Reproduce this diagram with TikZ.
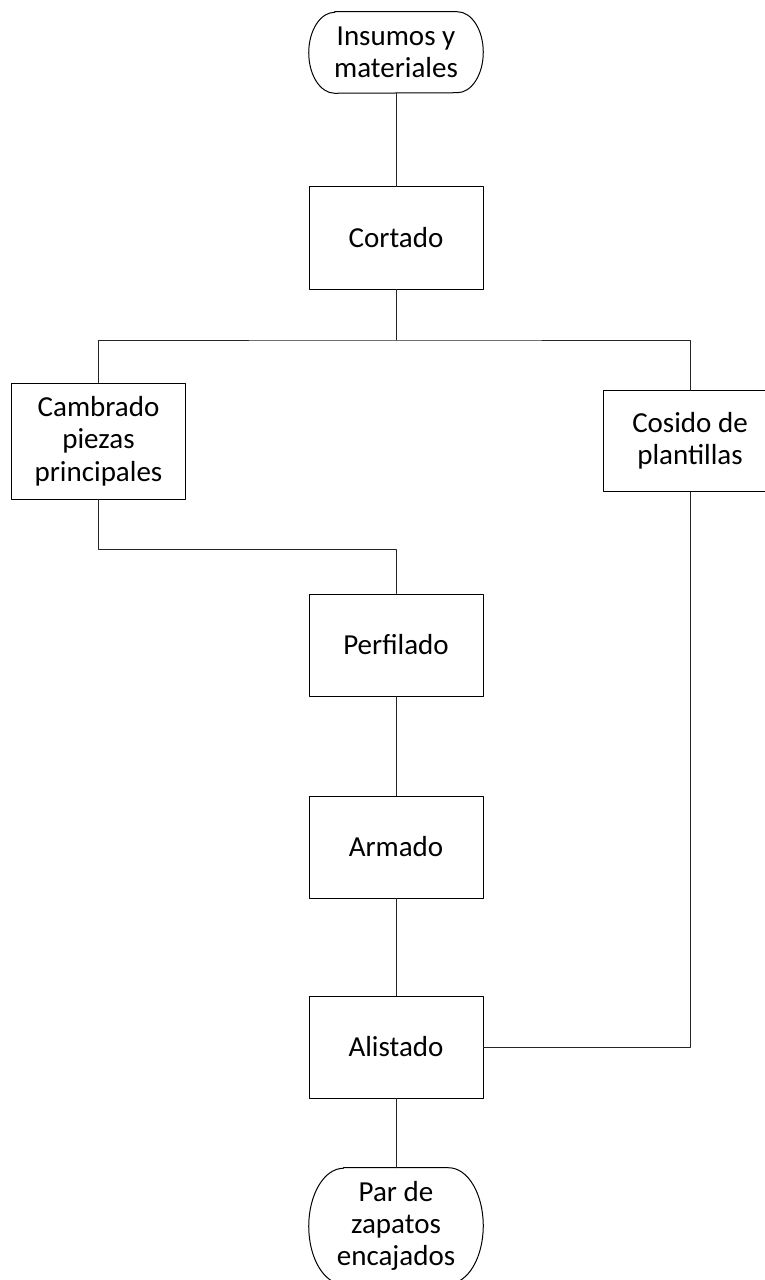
\documentclass[tikz,border=0pt]{standalone}
\usepackage{fontspec}
\setmainfont{Carlito}

\begin{document}
\begin{tikzpicture}[x=0.75pt, y=-0.75pt, line join = round, line cap = round,
    every node/.style={font=\fontsize{21.75}{24.3}\selectfont, align=center},
    paso/.style={draw, line width=0.75pt, minimum width=130.5pt, minimum height=76.5pt, inner sep=2pt},
    term/.style={minimum width=130.5pt, inner sep=2pt},
    enlace/.style={line width=0.75pt, black!85}]
    \useasboundingbox (0,0) rectangle (764,1280);

    \node [term, minimum height=60.75pt] (insumos) at (396,52.5) {Insumos y\\materiales};
    \node [paso] (cortado) at (396,238) {Cortado};
    \node [paso, minimum height=87pt] (cambrado) at (98.5,441) {Cambrado\\piezas\\principales};
    \node [paso, minimum height=75.75pt] (cosido) at (690,441) {Cosido de\\plantillas};
    \node [paso] (perfilado) at (396,645) {Perfilado};
    \node [paso] (armado) at (396,847) {Armado};
    \node [paso] (alistado) at (396,1047) {Alistado};
    \node [term, minimum height=87pt] (zapatos) at (396,1226) {Par de\\zapatos\\encajados};

    % bordes de inicio y fin
    \draw[line width=0.75pt] ([xshift=19.5pt]insumos.north west) -- ([xshift=-19.5pt]insumos.north east)
        arc[start angle=90, end angle=-90, x radius=19.5pt, y radius=30.375pt]
        -- ([xshift=19.5pt]insumos.south west)
        arc[start angle=270, end angle=90, x radius=19.5pt, y radius=30.375pt] -- cycle;
    \draw[line width=0.75pt] ([xshift=26pt]zapatos.north west) -- ([xshift=-26pt]zapatos.north east)
        arc[start angle=90, end angle=-90, x radius=26pt, y radius=43.5pt]
        -- ([xshift=26pt]zapatos.south west)
        arc[start angle=270, end angle=90, x radius=26pt, y radius=43.5pt] -- cycle;

    \coordinate (reparto) at (396,340);
    \coordinate (codo) at (396,549);

    \draw[enlace] (insumos)--(cortado);
    \draw[enlace] (cortado)--(reparto);
    \draw[enlace] (cambrado.north) |- (reparto) -| (cosido.north);
    \draw[enlace] (cambrado.south) |- (codo)--(perfilado.north);
    \draw[enlace] (perfilado)--(armado)--(alistado)--(zapatos);
    \draw[enlace] (alistado.east) -| (cosido.south);
\end{tikzpicture}
\end{document}
